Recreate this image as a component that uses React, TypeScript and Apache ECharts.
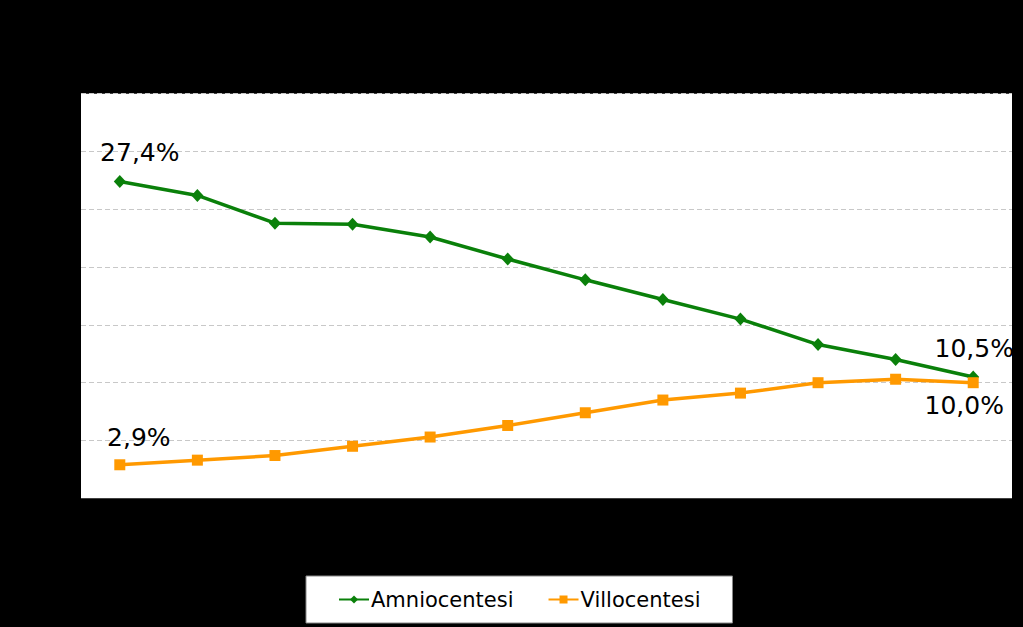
import React, { useEffect, useRef } from "react";
import * as echarts from "echarts";

const categories = ["2000", "2001", "2002", "2003", "2004", "2005", "2006", "2007", "2008", "2009", "2010", "2011"];
const amnioValues = [27.4, 26.2, 23.8, 23.7, 22.6, 20.7, 18.9, 17.2, 15.5, 13.3, 12.0, 10.5];
const villoValues = [2.9, 3.3, 3.7, 4.5, 5.3, 6.3, 7.4, 8.5, 9.1, 10.0, 10.3, 10.0];
const seriesNames = ["Amniocentesi", "Villocentesi"];

const FONT = "DejaVu Sans";

function labelled(values: number[], idxMap: Record<number, any>) {
  return values.map((v, i) =>
    idxMap[i]
      ? {
          value: v,
          label: {
            show: true,
            formatter: v.toFixed(1).replace(".", ",") + "%",
            color: "#000",
            fontFamily: FONT,
            fontSize: 25,
            ...idxMap[i],
          },
        }
      : v
  );
}

const GRID = "#c8c8c8";

export default function App() {
  const ref = useRef<HTMLDivElement>(null);
  useEffect(() => {
    if (!ref.current) return;
    const chart = echarts.init(ref.current, undefined, { renderer: "svg" });
    chart.setOption({
      animation: false,
      backgroundColor: "#000",
      grid: {
        left: 81,
        top: 93.7,
        width: 931,
        height: 404.6,
        show: true,
        backgroundColor: "#fff",
        borderWidth: 0,
      },
      xAxis: {
        type: "category",
        data: categories,
        boundaryGap: true,
        axisLine: { show: false },
        axisTick: { show: false },
        axisLabel: { show: false },
      },
      yAxis: {
        type: "value",
        min: 0,
        max: 35,
        interval: 5,
        axisLine: { show: false },
        axisTick: { show: false },
        axisLabel: { show: false },
        splitLine: {
          show: true,
          lineStyle: {
            color: ["rgba(0,0,0,0)", GRID, GRID, GRID, GRID, GRID, GRID, GRID],
            type: [5, 3],
            width: 1,
          },
        },
      },
      legend: {
        data: seriesNames,
        left: 306,
        top: 576,
        padding: [13, 32, 13, 32],
        backgroundColor: "#fff",
        borderColor: "#888",
        borderWidth: 1,
        itemWidth: 30,
        itemHeight: 10,
        itemGap: 34,
        textStyle: { color: "#000", fontFamily: FONT, fontSize: 21, padding: [0, 0, 0, -3] },
      },
      series: [
        {
          name: seriesNames[0],
          type: "line",
          data: labelled(amnioValues, {
            0: { position: "top", offset: [20, -5] },
            11: { position: "top", offset: [1, -4] },
          }),
          symbol: "diamond",
          symbolSize: [12, 13],
          lineStyle: { color: "#0a800a", width: 3.5 },
          itemStyle: { color: "#0a800a" },
        },
        {
          name: seriesNames[1],
          type: "line",
          data: labelled(villoValues, {
            0: { position: "top", offset: [19, -4] },
            11: { position: "bottom", offset: [-9, 0] },
          }),
          symbol: "rect",
          symbolSize: 11,
          lineStyle: { color: "#ff9900", width: 3.5 },
          itemStyle: { color: "#ff9900" },
        },
      ],
    });
    return () => chart.dispose();
  }, []);
  return (
    <div
      ref={ref}
      style={{ position: "fixed", left: 0, top: 0, width: 1023, height: 627 }}
    />
  );
}
